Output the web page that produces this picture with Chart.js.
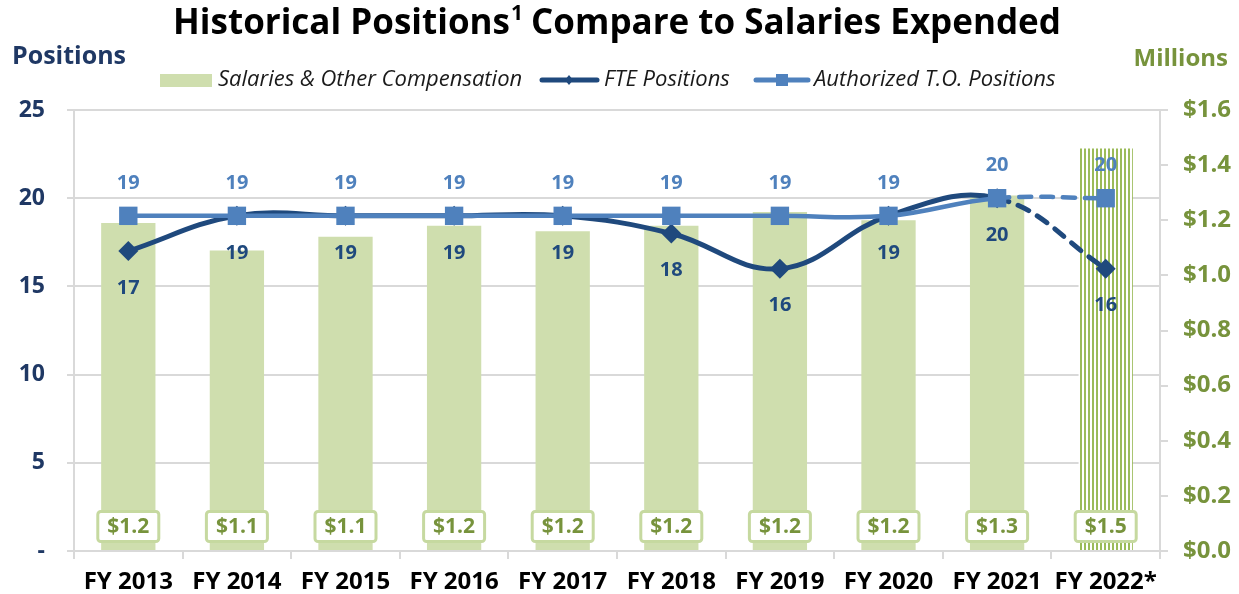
<!DOCTYPE html>
<html>
<head>
<meta charset="utf-8">
<script src="https://cdn.jsdelivr.net/npm/chart.js@4.4.0/dist/chart.umd.min.js"></script>
<style>
    html, body { margin: 0; padding: 0; background: #ffffff; }
    #wrap { width: 1239px; height: 594px; }
</style>
</head>
<body>
<div id="wrap"><canvas id="positions-chart" width="1239" height="594"></canvas></div>
<script>
// ============================================
// Data
// ============================================
const fiscalYears = ['FY 2013', 'FY 2014', 'FY 2015', 'FY 2016', 'FY 2017', 'FY 2018', 'FY 2019', 'FY 2020', 'FY 2021', 'FY 2022*'];
const salariesMillions = [1.19, 1.09, 1.14, 1.18, 1.16, 1.18, 1.23, 1.20, 1.29, 1.46]; // Salaries & Other Compensation
const ftePositions = [17, 19, 19, 19, 19, 18, 16, 19, 20, 16];
const authorizedPositions = [19, 19, 19, 19, 19, 19, 19, 19, 20, 20];
const projectedIndex = 9; // FY 2022* is a projection (hatched bar, dashed lines)

// ============================================
// Styling
// ============================================
const FONT = "'Open Sans', 'DejaVu Sans', sans-serif";
const NAVY = '#1f3864';
const FTE_BLUE = '#1f497d';
const TO_BLUE = '#4f81bd';
const OLIVE = '#77933c';
const BAR_GREEN = '#cfdeae';
const BOX_GREEN = '#c6d9a0';
const STRIPE_GREEN = '#9bbb59';
const GRID = '#d9d9d9';

const canvas = document.getElementById('positions-chart');
const ctx = canvas.getContext('2d');

// Vertical stripes for the projected year bar
function makeStripePattern() {
    const tile = document.createElement('canvas');
    tile.width = 4;
    tile.height = 4;
    const t = tile.getContext('2d');
    t.fillStyle = '#ffffff';
    t.fillRect(0, 0, 4, 4);
    t.fillStyle = STRIPE_GREEN;
    t.fillRect(0, 0, 2, 4);
    return ctx.createPattern(tile, 'repeat');
}
const stripes = makeStripePattern();

// Dashed segment into the projected year
const projectedDash = seg => (seg.p1DataIndex === projectedIndex ? [12, 10] : undefined);

// ============================================
// Plugins: header (title, axis captions, legend) and value labels
// ============================================
const header = {
    id: 'header',
    afterDraw(chart) {
        const c = chart.ctx;
        c.save();
        c.textBaseline = 'middle';

        // Title with superscript, fitted to the reference width
        const partA = 'Historical Positions';
        const partB = ' Compare to Salaries Expended';
        let size = 34;
        c.font = `bold ${size}px ${FONT}`;
        let w = c.measureText(partA + partB).width;
        c.font = `bold ${Math.round(size * 0.6)}px ${FONT}`;
        w += c.measureText('1').width;
        size = size * 888 / w;
        const sup = Math.round(size * 0.6);
        c.font = `bold ${size}px ${FONT}`;
        const wA = c.measureText(partA).width;
        const wB = c.measureText(partB).width;
        c.font = `bold ${sup}px ${FONT}`;
        const wS = c.measureText('1').width;
        let x = 617 - (wA + wS + wB) / 2;
        c.fillStyle = '#000000';
        c.textAlign = 'left';
        c.font = `bold ${size}px ${FONT}`;
        c.fillText(partA, x, 24);
        c.font = `bold ${sup}px ${FONT}`;
        c.fillText('1', x + wA + 1, 14);
        c.font = `bold ${size}px ${FONT}`;
        c.fillText(partB, x + wA + wS, 24);

        // Axis captions
        c.font = `bold 25px ${FONT}`;
        c.fillStyle = NAVY;
        c.fillText('Positions', 12, 57);
        c.fillStyle = OLIVE;
        c.textAlign = 'right';
        c.font = `bold 24px ${FONT}`;
        c.fillText('Millions', 1228, 59);

        // Legend
        c.textAlign = 'left';
        c.font = `italic 22px ${FONT}`;
        c.fillStyle = BAR_GREEN;
        c.fillRect(160, 74, 52, 13);
        c.fillStyle = '#1a1a1a';
        c.fillText('Salaries & Other Compensation', 218, 80);

        c.strokeStyle = FTE_BLUE;
        c.lineWidth = 5;
        c.lineCap = 'round';
        c.beginPath();
        c.moveTo(542, 80);
        c.lineTo(597, 80);
        c.stroke();
        c.fillStyle = FTE_BLUE;
        c.beginPath();
        c.moveTo(569, 75);
        c.lineTo(573, 80);
        c.lineTo(569, 85);
        c.lineTo(565, 80);
        c.closePath();
        c.fill();
        c.fillStyle = '#1a1a1a';
        c.fillText('FTE Positions', 604, 80);

        c.strokeStyle = TO_BLUE;
        c.beginPath();
        c.moveTo(756, 80);
        c.lineTo(808, 80);
        c.stroke();
        c.fillStyle = TO_BLUE;
        c.fillRect(776, 74, 12, 12);
        c.fillStyle = '#1a1a1a';
        c.fillText('Authorized T.O. Positions', 814, 80);
        c.restore();
    }
};

const valueLabels = {
    id: 'valueLabels',
    afterDatasetsDraw(chart) {
        const c = chart.ctx;
        c.save();
        c.textAlign = 'center';
        c.textBaseline = 'middle';

        // Boxed salary labels at the foot of each bar
        const zeroY = chart.scales.yRight.getPixelForValue(0);
        chart.getDatasetMeta(0).data.forEach((bar, i) => {
            const bw = 61, bh = 30;
            const bx = bar.x - bw / 2;
            const by = zeroY - 9.5 - bh;
            c.fillStyle = '#ffffff';
            c.strokeStyle = BOX_GREEN;
            c.lineWidth = 3;
            c.beginPath();
            c.roundRect(bx, by, bw, bh, 3);
            c.fill();
            c.stroke();
            c.fillStyle = OLIVE;
            c.font = `bold 21px ${FONT}`;
            c.fillText('$' + salariesMillions[i].toFixed(1), bar.x, by + bh / 2 + 1);
        });

        // FTE labels below the points, authorized labels above
        c.font = `bold 20px ${FONT}`;
        chart.getDatasetMeta(1).data.forEach((pt, i) => {
            c.fillStyle = FTE_BLUE;
            c.fillText(String(ftePositions[i]), pt.x, pt.y + 37);
        });
        chart.getDatasetMeta(2).data.forEach((pt, i) => {
            c.fillStyle = TO_BLUE;
            c.fillText(String(authorizedPositions[i]), pt.x, pt.y - 33);
        });
        c.restore();
    }
};

// ============================================
// Chart
// ============================================
new Chart(ctx, {
    data: {
        labels: fiscalYears,
        datasets: [
            {
                type: 'bar',
                label: 'Salaries & Other Compensation',
                data: salariesMillions,
                yAxisID: 'yRight',
                backgroundColor: fiscalYears.map((_, i) => (i === projectedIndex ? stripes : BAR_GREEN)),
                borderWidth: 0,
                barPercentage: 0.5,
                categoryPercentage: 1.0,
                order: 3
            },
            {
                type: 'line',
                label: 'FTE Positions',
                data: ftePositions,
                yAxisID: 'yLeft',
                borderColor: FTE_BLUE,
                backgroundColor: FTE_BLUE,
                borderWidth: 5,
                borderCapStyle: 'round',
                tension: 0.4,
                pointStyle: 'rectRot',
                pointRadius: 10,
                pointBorderWidth: 0,
                segment: { borderDash: projectedDash },
                order: 2
            },
            {
                type: 'line',
                label: 'Authorized T.O. Positions',
                data: authorizedPositions,
                yAxisID: 'yLeft',
                borderColor: TO_BLUE,
                backgroundColor: TO_BLUE,
                borderWidth: 4.5,
                borderCapStyle: 'round',
                tension: 0.4,
                pointStyle: 'rect',
                pointRadius: 13,
                pointBorderWidth: 0,
                segment: { borderDash: projectedDash },
                order: 1
            }
        ]
    },
    options: {
        responsive: false,
        animation: false,
        layout: { padding: { top: 110, left: 0, right: 0, bottom: 0 } },
        plugins: {
            legend: { display: false },
            title: { display: false },
            tooltip: { enabled: false }
        },
        scales: {
            x: {
                offset: true,
                grid: { offset: true, drawOnChartArea: false, color: GRID, lineWidth: 2, tickLength: 8 },
                border: { color: GRID, width: 2 },
                ticks: {
                    color: '#000000',
                    font: { family: FONT, size: 24, weight: 'bold' },
                    padding: 9,
                    maxRotation: 0,
                    autoSkip: false
                },
                afterFit(scale) { scale.height = 43; }
            },
            yLeft: {
                position: 'left',
                min: 0,
                max: 25,
                grid: { color: GRID, lineWidth: 2, tickLength: 7 },
                border: { color: GRID, width: 2 },
                ticks: {
                    stepSize: 5,
                    color: NAVY,
                    font: { family: FONT, size: 23, weight: 'bold' },
                    padding: 22,
                    callback: v => (v === 0 ? '-' : v)
                },
                afterFit(scale) { scale.width = 74; }
            },
            yRight: {
                position: 'right',
                min: 0,
                max: 1.6,
                grid: { drawOnChartArea: false, color: GRID, lineWidth: 2, tickLength: 8 },
                border: { color: GRID, width: 2 },
                ticks: {
                    stepSize: 0.2,
                    color: OLIVE,
                    font: { family: FONT, size: 24, weight: 'bold' },
                    padding: 15,
                    callback: v => '$' + v.toFixed(1)
                },
                afterFit(scale) { scale.width = 79; }
            }
        }
    },
    plugins: [header, valueLabels]
});
</script>
</body>
</html>
